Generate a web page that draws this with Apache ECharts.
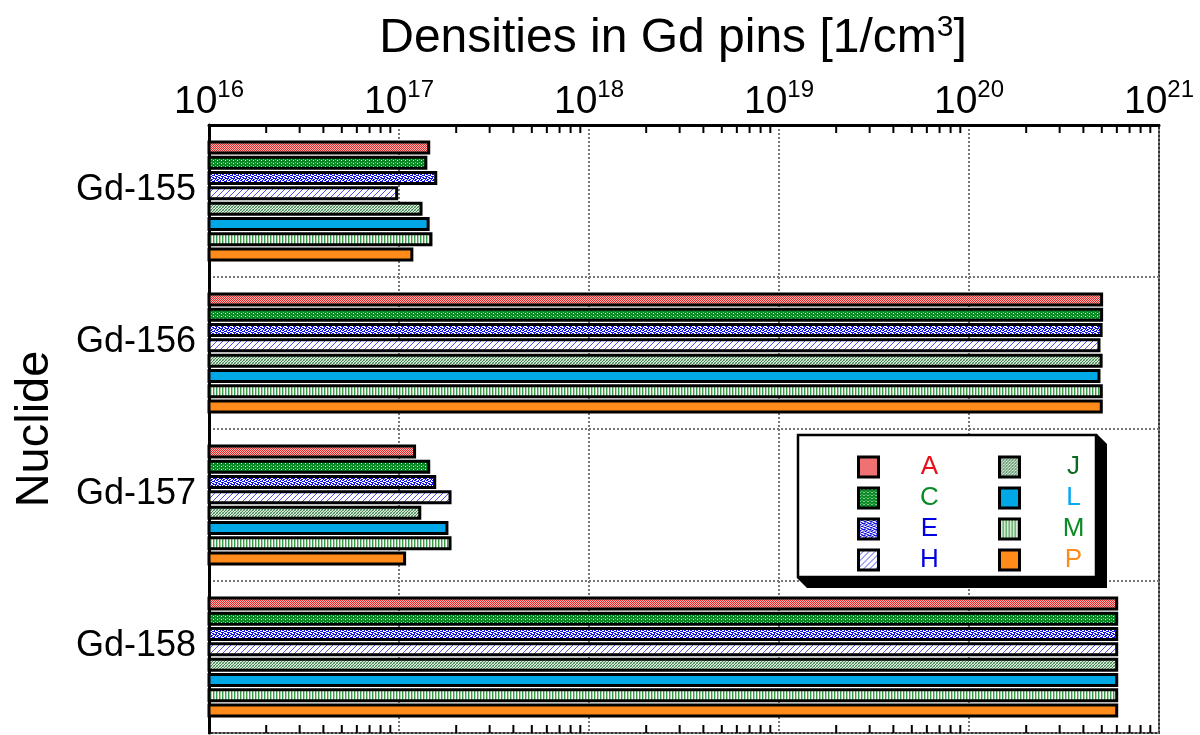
<!DOCTYPE html>
<html>
<head>
<meta charset="utf-8">
<script src="https://cdn.jsdelivr.net/npm/echarts@6/dist/echarts.min.js"></script>
<style>html,body{margin:0;padding:0;background:#fff;}#chart{width:1200px;height:735px;}</style>
</head>
<body>
<div id="chart"></div>
<script>
// ---- data ----
const categories = ['Gd-155', 'Gd-156', 'Gd-157', 'Gd-158'];
const seriesNames = ['A', 'C', 'E', 'H', 'J', 'L', 'M', 'P'];
const valuesA = [1.46e17, 5.08e20, 1.23e17, 6.1e20];
const valuesC = [1.41e17, 5.08e20, 1.46e17, 6.1e20];
const valuesE = [1.59e17, 5.05e20, 1.57e17, 6.1e20];
const valuesH = [0.99e17, 4.92e20, 1.89e17, 6.1e20];
const valuesJ = [1.33e17, 5.05e20, 1.31e17, 6.1e20];
const valuesL = [1.45e17, 4.92e20, 1.82e17, 6.1e20];
const valuesM = [1.50e17, 5.06e20, 1.89e17, 6.1e20];
const valuesP = [1.19e17, 5.06e20, 1.09e17, 6.1e20];
const xMin = 1e16, xMax = 1e21;
const decadeExponents = [16, 17, 18, 19, 20];
const minorMultipliers = [2, 3, 4, 5, 6, 7, 8, 9];

const seriesValues = [valuesA, valuesC, valuesE, valuesH, valuesJ, valuesL, valuesM, valuesP];
const labelColors = {A:'#e8101a', C:'#0a8a24', E:'#0000e0', H:'#0000e0', J:'#0a6a20', L:'#00a8f0', M:'#0a8a24', P:'#ff8c1a'};

// ---- fill patterns ----
function makePattern(w, h, draw) {
  const c = document.createElement('canvas');
  c.width = w; c.height = h;
  const ctx = c.getContext('2d');
  draw(ctx);
  return {image: c, repeat: 'repeat'};
}
function px(ctx, col, pts) { ctx.fillStyle = col; pts.forEach(p => ctx.fillRect(p[0], p[1], 1, 1)); }
const fills = {
  A: makePattern(2, 2, ctx => { ctx.fillStyle = '#ffb8b8'; ctx.fillRect(0,0,2,2); px(ctx, '#e02a2a', [[0,0],[1,1]]); }),
  C: makePattern(4, 3, ctx => { ctx.fillStyle = '#0a8a24'; ctx.fillRect(0,0,4,3); px(ctx, '#ffffff', [[1,1]]); px(ctx, '#7ac28a', [[3,0]]); }),
  E: makePattern(6, 6, ctx => { ctx.fillStyle = '#ffffff'; ctx.fillRect(0,0,6,6);
      px(ctx, '#1010e0', [[0,0],[1,0],[3,1],[4,1],[5,2],[1,2],[2,3],[0,4],[3,4],[4,4],[2,5],[5,5],[0,3],[4,0],[2,1],[5,4],[3,3],[1,5],[0,2]]); }),
  H: makePattern(6, 6, ctx => { ctx.fillStyle = '#ffffff'; ctx.fillRect(0,0,6,6);
      px(ctx, '#5050f0', [[5,0],[4,1],[3,2],[2,3],[1,4],[0,5]]); }),
  J: makePattern(3, 3, ctx => { ctx.fillStyle = '#dceadc'; ctx.fillRect(0,0,3,3);
      px(ctx, '#3f8450', [[0,0],[2,1],[1,2]]); px(ctx, '#94bf9c', [[1,0],[0,2]]); }),
  L: '#00a8e6',
  M: makePattern(3, 1, ctx => { ctx.fillStyle = '#ffffff'; ctx.fillRect(0,0,3,1); px(ctx, '#3c9a46', [[0,0]]); px(ctx, '#a8d4ae', [[1,0]]); }),
  P: '#ff8c1a'
};

const minorTickValues = [];
decadeExponents.forEach(e => minorMultipliers.forEach(m => minorTickValues.push([m * Math.pow(10, e), 0])));

const FONT = 'Liberation Sans, Arial, Helvetica, sans-serif';

const barSeries = seriesNames.map((name, i) => ({
  name: name,
  type: 'bar',
  data: seriesValues[i],
  barWidth: 14,
  barGap: '9%',
  itemStyle: {color: fills[name], borderColor: '#000', borderWidth: 3},
  z: 3
}));

const minorTickSeries = {
  type: 'custom',
  name: 'minorTicks',
  data: minorTickValues,
  encode: {x: 0, y: 1},
  silent: true,
  clip: false,
  z: 4,
  renderItem: function (params, api) {
    const x = api.coord([api.value(0), categories[0]])[0];
    const cs = params.coordSys;
    return {type: 'group', children: [
      {type: 'line', shape: {x1: x, y1: cs.y, x2: x, y2: cs.y + 8}, style: {stroke: '#000', lineWidth: 2}},
      {type: 'line', shape: {x1: x, y1: cs.y + cs.height, x2: x, y2: cs.y + cs.height - 8}, style: {stroke: '#000', lineWidth: 2}}
    ]};
  }
};

function legendBlock(names, left, textW) {
  const rich = {};
  names.forEach(n => { rich[n] = {color: labelColors[n], fontSize: 26, fontFamily: FONT, width: textW, align: 'center', lineHeight: 18}; });
  return {
    orient: 'vertical',
    left: left, top: 449,
    itemWidth: 20, itemHeight: 20, itemGap: 5,
    icon: 'rect',
    data: names,
    selectedMode: false,
    itemStyle: {borderColor: '#000', borderWidth: 3},
    formatter: n => '{' + n + '|' + n + '}',
    textStyle: {rich: rich, fontFamily: FONT, fontSize: 26},
    z: 6
  };
}

const option = {
  animation: false,
  backgroundColor: '#fff',
  textStyle: {fontFamily: FONT},
  title: {
    text: 'Densities in Gd pins [1/cm{s|3}]',
    left: 668, top: 8, textAlign: 'center',
    textStyle: {fontSize: 48, fontWeight: 'normal', color: '#000', fontFamily: FONT,
      rich: {s: {fontSize: 30, verticalAlign: 'top', padding: [0, 0, 22, 0], color: '#000', fontFamily: FONT}}}
  },
  grid: {left: 209, right: 41, top: 125, bottom: 2, show: true, borderColor: '#333', borderWidth: 2, backgroundColor: 'transparent'},
  xAxis: {
    type: 'log', logBase: 10, min: xMin, max: xMax, position: 'top',
    axisLine: {show: true, lineStyle: {color: '#000', width: 3}},
    axisTick: {show: false},
    splitLine: {show: true, lineStyle: {color: '#777', width: 2, type: [2, 2]}},
    axisLabel: {
      margin: 3,
      formatter: v => '{b|10}{s|' + Math.round(Math.log10(v)) + '}',
      rich: {
        b: {fontSize: 39, lineHeight: 44, verticalAlign: 'bottom', color: '#000', fontFamily: FONT},
        s: {fontSize: 24, color: '#000', fontFamily: FONT, verticalAlign: 'top', lineHeight: 20}
      }
    }
  },
  yAxis: {
    type: 'category', data: categories, inverse: true,
    name: 'Nuclide', nameLocation: 'middle', nameRotate: 90, nameGap: 150,
    nameTextStyle: {fontSize: 47, color: '#000', fontFamily: FONT},
    axisLine: {show: true, lineStyle: {color: '#000', width: 3}},
    axisTick: {show: false},
    splitLine: {show: true, lineStyle: {color: '#777', width: 2, type: [2, 2]}},
    axisLabel: {
      margin: 13,
      formatter: v => '{a|' + v + '}\n{b| }',
      rich: {
        a: {fontSize: 36, color: '#000', fontFamily: FONT, lineHeight: 36, align: 'right'},
        b: {fontSize: 10, lineHeight: 22, align: 'right'}
      }
    }
  },
  legend: [legendBlock(['A', 'C', 'E', 'H'], 852, 92), legendBlock(['J', 'L', 'M', 'P'], 993, 98)],
  graphic: [
    {type: 'polygon', z: 5, shape: {points: [[1097, 434], [1107, 444], [1107, 588], [807, 588], [797, 578]]}, style: {fill: '#000'}},
    {type: 'rect', z: 5, shape: {x: 798, y: 435, width: 298, height: 142}, style: {fill: '#fff', stroke: '#000', lineWidth: 2.5}}
  ],
  series: barSeries.concat([minorTickSeries])
};

const chart = echarts.init(document.getElementById('chart'), null, {renderer: 'canvas'});
chart.setOption(option);
</script>
</body>
</html>
